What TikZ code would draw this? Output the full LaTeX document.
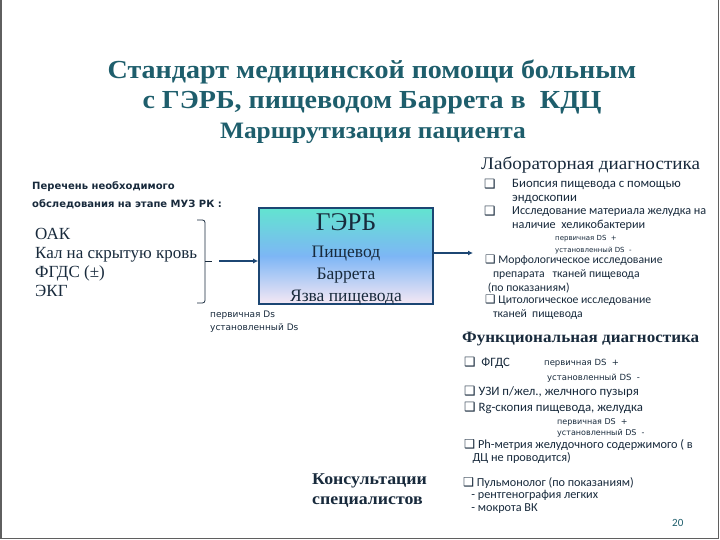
\documentclass[tikz,border=0pt]{standalone}
\usepackage{fontspec}
\setmainfont{Liberation Serif}
\newfontfamily\wideserif[FakeStretch=1.08]{Liberation Serif}
\newfontfamily\listfont{Carlito}
\newfontfamily\smallsans{DejaVu Sans}
\newfontfamily\boxsym{DejaVu Sans}
\usetikzlibrary{arrows.meta,positioning}
\definecolor{titleteal}{RGB}{30,94,108}
\definecolor{inknavy}{RGB}{24,42,60}
\definecolor{linknavy}{RGB}{28,70,115}
\definecolor{framegray}{RGB}{95,95,95}
\definecolor{boxtop}{RGB}{98,228,208}
\definecolor{boxmid}{RGB}{125,182,245}
\definecolor{boxbot}{RGB}{246,232,244}
\newcommand{\sqb}{{\boxsym\char"2751}}
\tikzset{
  headline/.style={font=\wideserif\bfseries\fontsize{26}{30}\selectfont, text=titleteal, anchor=base, inner sep=0pt},
  subhead/.style={font=\wideserif\fontsize{17.7}{21}\selectfont, text=inknavy, anchor=base west, inner sep=0pt, align=left},
  item/.style={font=\listfont\fontsize{12.8}{14}\selectfont, text=inknavy, anchor=base west, inner sep=0pt, align=left},
  tiny/.style={font=\smallsans\fontsize{8}{11}\selectfont, text=inknavy, anchor=base west, inner sep=0pt, align=left},
  exam/.style={font=\fontsize{17}{19}\selectfont, text=inknavy, anchor=base west, inner sep=0pt, align=left},
  gerdbox/.style={draw=linknavy, line width=1.6pt, minimum width=174pt, minimum height=96pt,
    top color=boxtop, bottom color=boxbot, middle color=boxmid, inner sep=0pt},
  inbox/.style={font=\fontsize{17.5}{20}\selectfont, text=inknavy, anchor=base, inner sep=0pt},
  flow/.style={-{Latex[length=5pt,width=5pt]}, line width=1.5pt, draw=linknavy},
  bracket/.style={draw=inknavy, line width=0.8pt, rounded corners=2.5pt}
}
\begin{document}
\begin{tikzpicture}[x=1pt, y=-1pt]
  \useasboundingbox (0,0) rectangle (720,540);
  \fill[white] (0,0) rectangle (720,540);
  \draw[framegray, line width=1.5pt] (1,0) -- (1,538.5) -- (718.5,538.5) -- (718.5,0);
  % heading
  \node[headline] (head1) at (372,79) {Стандарт медицинской помощи больным};
  \node[headline] (head2) at (372,109) {с ГЭРБ, пищеводом Баррета в\ \ КДЦ};
  \node[headline, font=\wideserif\bfseries\fontsize{23.5}{27}\selectfont] (head3) at (373,139) {Маршрутизация пациента};
  % left column
  \node[tiny, font=\smallsans\bfseries\fontsize{10}{17.5}\selectfont] (need) at (32,207.5)
    {Перечень необходимого\\обследования на этапе МУЗ РК :};
  \node[exam] (tests) at (35,296) {ОАК\\Кал на скрытую кровь\\ФГДС (±)\\ЭКГ};
  \coordinate (bracetop) at (197,220);
  \coordinate (bracebot) at (197,303);
  \coordinate (bracemid) at (205,261);
  \coordinate (bracetip) at (212,261);
  \draw[bracket] (bracetop) -| (bracemid) |- (bracebot);
  \draw[bracket] (bracemid) -- (bracetip);
  % diagnosis box
  \node[gerdbox] (gerd) at (346,256) {};
  \node[inbox, font=\fontsize{25.5}{28}\selectfont] (gerdname) at (346,230.5) {ГЭРБ};
  \node[inbox] (barrett1) at (346,257) {Пищевод};
  \node[inbox] (barrett2) at (346,279) {Баррета};
  \node[inbox] (ulcer) at (346,301) {Язва пищевода};
  \node[tiny, font=\smallsans\fontsize{9}{12.5}\selectfont] (dsleft) at (210,330) {первичная Ds\\установленный Ds};
  \coordinate (arrowfrom) at (219,261);
  \draw[flow] (arrowfrom) -- (gerd.west |- arrowfrom);
  \coordinate (labin) at (473,253);
  \draw[flow] (gerd.east |- labin) -- (labin);
  % laboratory
  \node[subhead] (lab) at (481,170) {Лабораторная диагностика};
  \node[item] (lab1b) at (484,189) {\sqb};
  \node[item] (lab1) at (512,202) {Биопсия пищевода с помощью\\эндоскопии};
  \node[item] (lab2b) at (484,215) {\sqb};
  \node[item, font=\listfont\fontsize{12.2}{14}\selectfont] (lab2) at (512,229) {Исследование материала желудка на\\наличие\ \ хеликобактерии};
  \node[tiny, font=\smallsans\fontsize{7}{11.5}\selectfont] (labds) at (555,252) {первичная DS\ \ +\\установленный DS\ \ -};
  \node[item, font=\listfont\fontsize{11.7}{14}\selectfont] (lab3) at (485,291) {\sqb\ Морфологическое исследование\\\ \ \ препарата\ \ \ тканей пищевода\\\ (по показаниям)};
  \node[item, font=\listfont\fontsize{11.7}{14}\selectfont] (lab4) at (485,317) {\sqb\ Цитологическое исследование\\\ \ \ тканей\ \ пищевода};
  % functional
  \node[subhead, font=\wideserif\bfseries\fontsize{15.8}{20}\selectfont] (func) at (462,342) {Функциональная диагностика};
  \node[item] (func1) at (464,366) {\sqb\ \ ФГДС};
  \node[tiny, font=\smallsans\fontsize{8.5}{15}\selectfont] (func1ds) at (544,380) {первичная DS\ \ +\\\hspace{3pt}установленный DS\ \ -};
  \node[item] (func2) at (464,395) {\sqb\ УЗИ п/жел., желчного пузыря};
  \node[item] (func3) at (464,411) {\sqb\ Rg-скопия пищевода, желудка};
  \node[tiny] (func3ds) at (557,435) {первичная DS\ \ +\\установленный DS\ \ -};
  \node[item, font=\listfont\fontsize{12.3}{13}\selectfont] (func4) at (464,461) {\sqb\ Ph-метрия желудочного содержимого ( в\\\ \ \ ДЦ не проводится)};
  % consultations
  \node[subhead, font=\wideserif\bfseries\fontsize{16.5}{20.5}\selectfont] (consult) at (312,504.5) {Консультации\\специалистов};
  \node[item, font=\listfont\fontsize{12.2}{12.5}\selectfont] (pulmo) at (463,511) {\sqb\ Пульмонолог (по показаниям)\\\ \ \ - рентгенография легких\\\ \ \ - мокрота ВК};
  \node[item, font=\listfont\fontsize{11}{13}\selectfont, text=titleteal] (page) at (672,526) {20};
\end{tikzpicture}
\end{document}
